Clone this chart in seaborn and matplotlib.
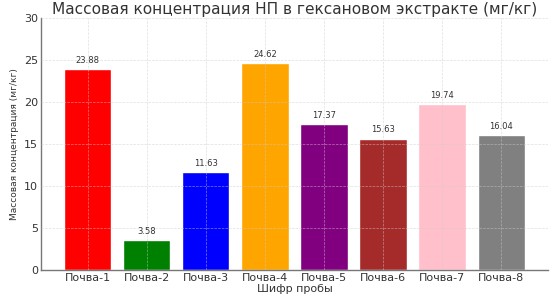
import matplotlib
matplotlib.use("Agg")
import matplotlib.pyplot as plt
import pandas as pd
import seaborn as sns

# Данные: массовая концентрация НП по пробам
samples = ["Почва-1", "Почва-2", "Почва-3", "Почва-4",
           "Почва-5", "Почва-6", "Почва-7", "Почва-8"]
values = [23.88, 3.58, 11.63, 24.62, 17.37, 15.63, 19.74, 16.04]
bar_colors = ["red", "green", "blue", "orange",
              "purple", "brown", "pink", "gray"]

df = pd.DataFrame({"sample": samples, "value": values})

sns.set_style("white")
plt.rcParams["font.family"] = ["DejaVu Sans"]

fig, ax = plt.subplots(figsize=(5.55, 2.99), dpi=100)
fig.subplots_adjust(left=0.074, right=0.987, bottom=0.097, top=0.94)

sns.barplot(data=df, x="sample", y="value", hue="sample", palette=bar_colors,
            legend=False, width=0.8, saturation=1, ax=ax)

for i, v in enumerate(values):
    ax.text(i, v + 0.5, f"{v:.2f}", ha="center", va="bottom",
            fontsize=6, color="#333333")

ax.set_xlim(-0.79, 7.79)
ax.set_ylim(0, 30)
ax.set_yticks([0, 5, 10, 15, 20, 25, 30])
ax.set_title("Массовая концентрация НП в гексановом экстракте (мг/кг)",
             fontsize=11.1, color="#333333", pad=3)
ax.set_xlabel("Шифр пробы", fontsize=8, color="#333333", labelpad=1)
ax.set_ylabel("Массовая концентрация (мг/кг)", fontsize=6.5, color="#333333")
ax.tick_params(axis="both", labelsize=8, colors="#555555", direction="in",
               length=3, labelcolor="#333333", pad=2)
ax.grid(True, linestyle="--", linewidth=0.5, color="#cccccc", alpha=0.6)
ax.set_axisbelow(False)
for s in ["top", "right"]:
    ax.spines[s].set_visible(False)
for s in ["left", "bottom"]:
    ax.spines[s].set_color("#777777")
    ax.spines[s].set_linewidth(1.0)

fig.savefig("out.png", dpi=100)
